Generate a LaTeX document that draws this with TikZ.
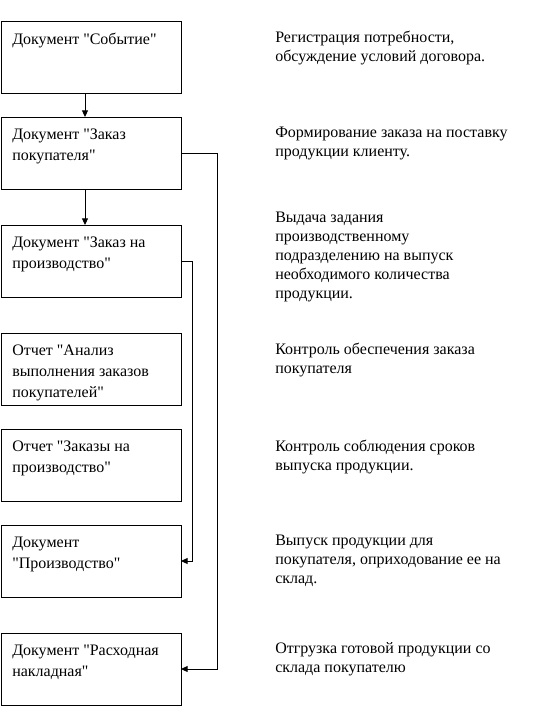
\documentclass[tikz,border=0pt]{standalone}
\usepackage{fontspec}
\setmainfont{Liberation Serif}
\newfontfamily\tnr{Liberation Serif}
\usetikzlibrary{arrows.meta}
\begin{document}
\begin{tikzpicture}[x=0.75pt,y=-0.75pt,
  box/.style={draw=black,line width=0.75pt,rectangle,minimum width=135pt,minimum height=54pt,inner sep=0pt,outer sep=0pt,anchor=north west},
  lbl/.style={anchor=north west,inner sep=0pt,align=left,font=\tnr\fontsize{12pt}{15.5pt}\selectfont},
  rlbl/.style={anchor=north west,inner sep=0pt,align=left,font=\tnr\fontsize{12pt}{14.2pt}\selectfont},
  arr/.style={line width=0.75pt,-{Triangle[length=5pt,width=4.5pt]}}]
\useasboundingbox (0,0) rectangle (546,708);
\fill[white] (0,0) rectangle (546,708);
% boxes
\node[box] (b1) at (1,21) {};
\node[box] (b2) at (1,117) {};
\node[box] (b3) at (1,225) {};
\node[box] (b4) at (1,333) {};
\node[box] (b5) at (1,429) {};
\node[box] (b6) at (1,525) {};
\node[box] (b7) at (1,633) {};
% box texts
\node[lbl] (t1) at (12,33) {Документ "Событие"};
\node[lbl] (t2) at (12,129) {Документ "Заказ\\покупателя"};
\node[lbl] (t3) at (12,237) {Документ "Заказ на\\производство"};
\node[lbl] (t4) at (12,345) {Отчет "Анализ\\выполнения заказов\\покупателей"};
\node[lbl] (t5) at (12,441) {Отчет "Заказы на\\производство"};
\node[lbl] (t6) at (12,537) {Документ\\"Производство"};
\node[lbl] (t7) at (12,645) {Документ "Расходная\\накладная"};
% right texts
\node[rlbl] (r1) at (275,31) {Регистрация потребности,\\обсуждение условий договора.};
\node[rlbl] (r2) at (275,127) {Формирование заказа на поставку\\продукции клиенту.};
\node[rlbl] (r3) at (275,212) {Выдача задания\\производственному\\подразделению на выпуск\\необходимого количества\\продукции.};
\node[rlbl] (r4) at (275,343) {Контроль обеспечения заказа\\покупателя};
\node[rlbl] (r5) at (275,440) {Контроль соблюдения сроков\\выпуска продукции.};
\node[rlbl] (r6) at (275,535) {Выпуск продукции для\\покупателя, оприходование ее на\\склад.};
\node[rlbl] (r7) at (275,642) {Отгрузка готовой продукции со\\склада покупателю};
% connectors
\draw[arr] ([xshift=63pt]b1.south west) -- ([xshift=63pt]b2.north west);
\draw[arr] ([xshift=63pt]b2.south west) -- ([xshift=63pt]b3.north west);
\draw[arr] (b2.east) -- ++(36,0) |- (b7.east);
\draw[arr] (b3.east) -- ++(11,0) |- (b6.east);
\end{tikzpicture}
\end{document}
